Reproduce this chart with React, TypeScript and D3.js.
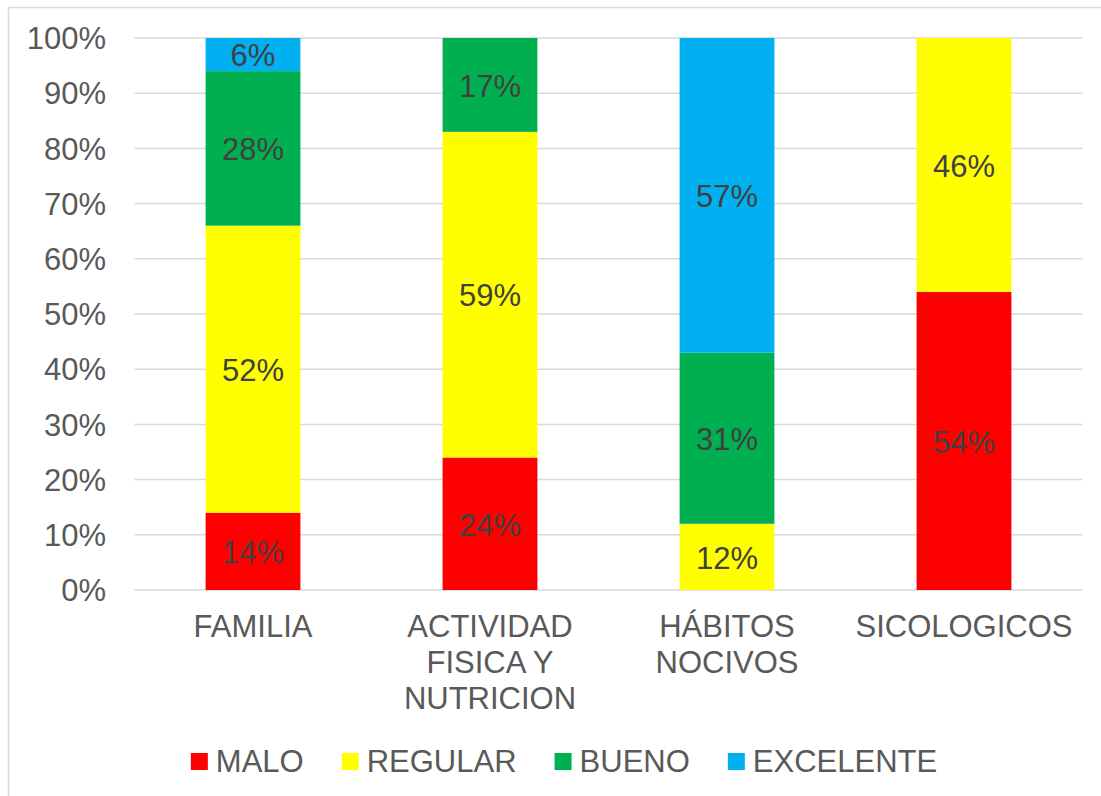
import { useEffect, useRef } from "react";
import * as d3 from "d3";

const categories = ["FAMILIA", "ACTIVIDAD FISICA Y NUTRICION", "HÁBITOS NOCIVOS", "SICOLOGICOS"];
const categoryLines = [["FAMILIA"], ["ACTIVIDAD", "FISICA Y", "NUTRICION"], ["HÁBITOS", "NOCIVOS"], ["SICOLOGICOS"]];
const seriesNames = ["MALO", "REGULAR", "BUENO", "EXCELENTE"];
const seriesColors = ["#FF0000", "#FFFF00", "#00B050", "#00B0F0"];
const malo = [14, 24, 0, 54];
const regular = [52, 59, 12, 46];
const bueno = [28, 17, 31, 0];
const excelente = [6, 0, 57, 0];
const yTicks = [0, 10, 20, 30, 40, 50, 60, 70, 80, 90, 100];

export default function App() {
  const ref = useRef<SVGSVGElement>(null);

  useEffect(() => {
    const width = 1101;
    const height = 796;
    const font = "'Liberation Sans', Arial, sans-serif";
    const fs = 31;

    const svg = d3.select(ref.current).attr("width", width).attr("height", height);
    svg.selectAll("*").remove();

    svg
      .append("rect")
      .attr("x", 8.5)
      .attr("y", 7.5)
      .attr("width", 1110)
      .attr("height", 810)
      .attr("fill", "#fff")
      .attr("stroke", "#d9d9d9")
      .attr("stroke-width", 1.5);

    const x = d3
      .scaleBand()
      .domain(categories)
      .range([134.5, 1082.5])
      .paddingInner(0.6)
      .paddingOuter(0.3);

    const y = d3.scaleLinear().domain([0, 100]).range([590, 38]);

    // gridlines
    svg
      .append("g")
      .selectAll("line")
      .data(yTicks)
      .join("line")
      .attr("x1", 134.5)
      .attr("x2", 1082.5)
      .attr("y1", d => y(d))
      .attr("y2", d => y(d))
      .attr("stroke", "#d9d9d9")
      .attr("stroke-width", 1.5);

    svg
      .append("g")
      .selectAll("text")
      .data(yTicks)
      .join("text")
      .attr("x", 106)
      .attr("y", d => y(d))
      .attr("dy", "0.36em")
      .attr("text-anchor", "end")
      .attr("font-family", font)
      .attr("font-size", fs)
      .attr("fill", "#595959")
      .text(d => d + "%");

    const table = categories.map((c, i) => ({
      cat: c,
      MALO: malo[i],
      REGULAR: regular[i],
      BUENO: bueno[i],
      EXCELENTE: excelente[i],
    }));
    const stacked = d3.stack<any>().keys(seriesNames)(table);

    stacked.forEach((layer, si) => {
      const g = svg.append("g");
      const segs = layer.filter(d => d[1] - d[0] > 0);
      g.selectAll("rect")
        .data(segs)
        .join("rect")
        .attr("x", d => x(d.data.cat)!)
        .attr("width", x.bandwidth())
        .attr("y", d => y(d[1]))
        .attr("height", d => y(d[0]) - y(d[1]))
        .attr("fill", seriesColors[si]);
      g.selectAll("text")
        .data(segs)
        .join("text")
        .attr("x", d => x(d.data.cat)! + x.bandwidth() / 2)
        .attr("y", d => (y(d[0]) + y(d[1])) / 2)
        .attr("dy", "0.38em")
        .attr("text-anchor", "middle")
        .attr("font-family", font)
        .attr("font-size", fs)
        .attr("fill", "#404040")
        .text(d => d[1] - d[0] + "%");
    });

    // category labels
    const cg = svg.append("g");
    categories.forEach((c, i) => {
      const cx = x(c)! + x.bandwidth() / 2;
      const t = cg
        .append("text")
        .attr("text-anchor", "middle")
        .attr("font-family", font)
        .attr("font-size", fs)
        .attr("fill", "#595959");
      categoryLines[i].forEach((line, li) => {
        t.append("tspan")
          .attr("x", cx)
          .attr("y", 637 + li * 36)
          .text(line);
      });
    });

    // legend
    const lg = svg.append("g");
    const items = seriesNames.map((name, i) => {
      const it = lg.append("g");
      it.append("rect").attr("width", 17).attr("height", 17).attr("y", 753).attr("fill", seriesColors[i]);
      const t = it
        .append("text")
        .attr("x", 25)
        .attr("y", 772)
        .attr("font-family", font)
        .attr("font-size", fs)
        .attr("fill", "#595959")
        .text(name);
      const w = (t.node() as SVGTextElement).getComputedTextLength();
      return { it, w: 25 + w };
    });
    const gap = 38;
    const total = d3.sum(items, d => d.w) + gap * (items.length - 1);
    let lx = 564 - total / 2;
    items.forEach(d => {
      d.it.attr("transform", `translate(${lx},0)`);
      lx += d.w + gap;
    });
  }, []);

  return (
    <div style={{ position: "absolute", left: 0, top: 0 }}>
      <svg ref={ref} style={{ display: "block" }} />
    </div>
  );
}
